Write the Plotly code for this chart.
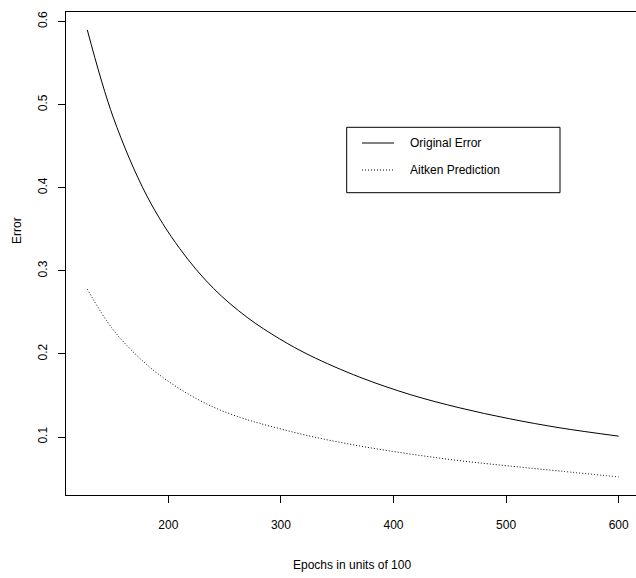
import plotly.graph_objects as go

# ---- data ----
epochs_orig = [128, 151, 181, 210, 240, 270, 299, 326, 370, 415, 459, 503, 548, 600]
original_error = [0.590, 0.485, 0.390, 0.327, 0.279, 0.244, 0.218, 0.198, 0.172, 0.151, 0.135, 0.122, 0.111, 0.101]

epochs_aitken = [128, 151, 181, 210, 240, 264, 281, 326, 370, 415, 459, 503, 548, 600]
aitken_prediction = [0.278, 0.229, 0.187, 0.158, 0.136, 0.1235, 0.1165, 0.101, 0.0892, 0.0795, 0.0715, 0.0651, 0.0590, 0.0520]

series_names = ["Original Error", "Aitken Prediction"]
x_ticks = [200, 300, 400, 500, 600]
y_ticks = [0.1, 0.2, 0.3, 0.4, 0.5, 0.6]
x_title = "Epochs in units of 100"
y_title = "Error"

FONT = "Liberation Sans, Arial, Helvetica, sans-serif"
W, H = 636, 578
ML, MT, MB, MR = 66, 12, 83, 0

fig = go.Figure()
fig.add_trace(go.Scatter(x=epochs_orig, y=original_error, mode="lines", name=series_names[0],
                         line=dict(color="black", width=1, shape="spline", smoothing=1.0),
                         showlegend=False, hoverinfo="skip"))
fig.add_trace(go.Scatter(x=epochs_aitken, y=aitken_prediction, mode="lines", name=series_names[1],
                         line=dict(color="black", width=1, dash="1px,2px", shape="spline", smoothing=1.0),
                         showlegend=False, hoverinfo="skip"))

fig.update_layout(
    width=W, height=H,
    margin=dict(l=ML, r=MR, t=MT, b=MB, pad=0),
    paper_bgcolor="white", plot_bgcolor="white",
    font=dict(family=FONT, size=12, color="black"),
    xaxis=dict(range=[109.1, 615.4], tickvals=x_ticks, ticktext=[str(v) for v in x_ticks],
               ticks="outside", ticklen=7, tickwidth=1, tickcolor="black",
               showline=True, linecolor="black", linewidth=1, mirror=True,
               showgrid=False, zeroline=False, ticklabelstandoff=12,
               tickfont=dict(family=FONT, size=12, color="black")),
    yaxis=dict(range=[0.0302, 0.6115], tickvals=y_ticks, ticktext=[str(v) for v in y_ticks],
               ticks="outside", ticklen=7, tickwidth=1, tickcolor="black",
               showline=True, linecolor="black", linewidth=1, mirror=False,
               showgrid=False, zeroline=False, tickangle=-90, ticklabelstandoff=6,
               tickfont=dict(family=FONT, size=12, color="black")),
)

# axis titles
fig.add_annotation(text=x_title, xref="paper", yref="paper", x=(352 - ML) / (W - ML - MR),
                   y=-(565 - (H - MB)) / (H - MT - MB), showarrow=False,
                   xanchor="center", yanchor="middle", font=dict(family=FONT, size=12, color="black"))
fig.add_annotation(text=y_title, xref="paper", yref="paper", x=-(ML - 17) / (W - ML - MR),
                   y=((H - MB) - 231) / (H - MT - MB), showarrow=False, textangle=-90,
                   xanchor="center", yanchor="middle", font=dict(family=FONT, size=12, color="black"))

# legend box drawn manually (pixel -> paper)
pw, ph = W - ML - MR, H - MT - MB
def px(xp):
    return (xp - ML) / pw
def py(yp):
    return ((H - MB) - yp) / ph

fig.add_shape(type="rect", xref="paper", yref="paper", x0=px(346.7), x1=px(560), y0=py(192.7), y1=py(127.3),
              line=dict(color="black", width=1), fillcolor="white")
fig.add_shape(type="line", xref="paper", yref="paper", x0=px(362), x1=px(394), y0=py(143), y1=py(143),
              line=dict(color="black", width=1))
fig.add_shape(type="line", xref="paper", yref="paper", x0=px(362), x1=px(394), y0=py(170), y1=py(170),
              line=dict(color="black", width=1, dash="1px,2px"))
for name, yp in zip(series_names, [143, 170]):
    fig.add_annotation(text=name, xref="paper", yref="paper", x=px(408), y=py(yp), showarrow=False,
                       xanchor="left", yanchor="middle", font=dict(family=FONT, size=12, color="black"))

fig.write_html("out.html", config={"displayModeBar": False},
               post_script="document.body.style.margin='0';document.body.style.padding='0';"
                           "document.body.style.overflow='hidden';")
